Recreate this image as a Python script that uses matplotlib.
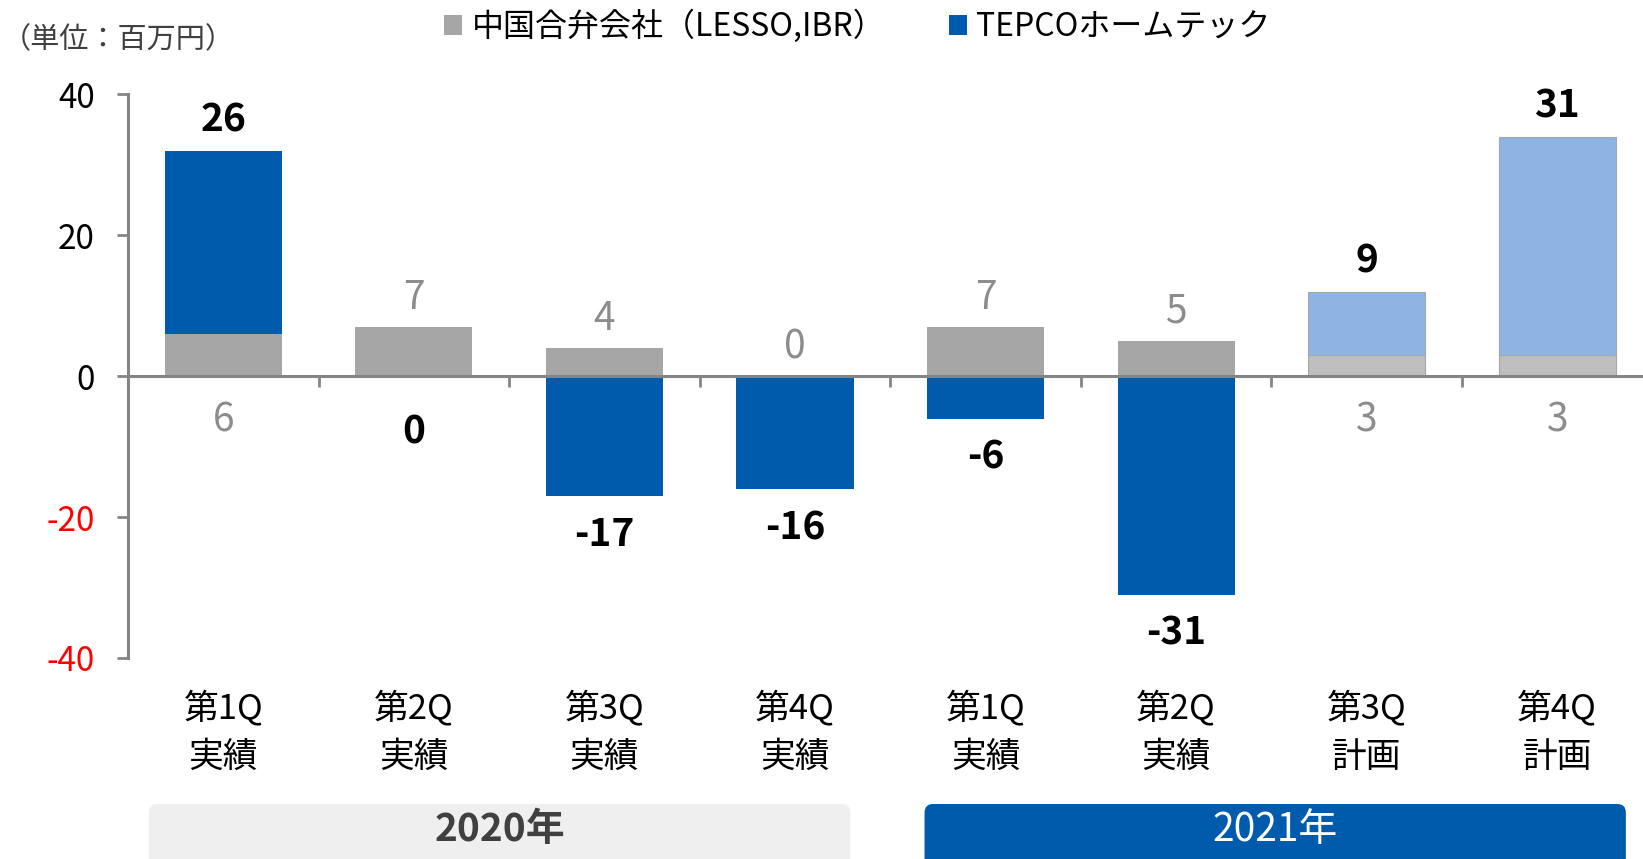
import matplotlib
matplotlib.use("Agg")
import matplotlib.pyplot as plt
from matplotlib.patches import Patch, FancyBboxPatch
import matplotlib.transforms as mtransforms
import numpy as np

plt.rcParams['font.family'] = ['Noto Sans CJK JP', 'DejaVu Sans']

# data (百万円)
quarters = ["第1Q\n実績", "第2Q\n実績", "第3Q\n実績", "第4Q\n実績",
            "第1Q\n実績", "第2Q\n実績", "第3Q\n計画", "第4Q\n計画"]
jv_china = [6, 7, 4, 0, 7, 5, 3, 3]
tepco_ht = [26, 0, -17, -16, -6, -31, 9, 31]
is_plan = [False, False, False, False, False, False, True, True]
years = ["2020年", "2021年"]
year_span = [(0, 3), (4, 7)]

legend_labels = ["中国合弁会社（LESSO,IBR）", "TEPCOホームテック"]
unit_label = "（単位：百万円）"

GRAY = "#A6A6A6"
BLUE = "#005BAC"
LGRAY = "#BFBFBF"
LBLUE = "#8EB4E3"
AXC = "#858585"

fig = plt.figure(figsize=(16.43, 8.59), dpi=100)
ax = fig.add_axes([0.0779, 0.234, 0.9221, 0.656])

x = np.arange(len(quarters))
w = 0.615
gcol = [LGRAY if p else GRAY for p in is_plan]
bcol = [LBLUE if p else BLUE for p in is_plan]
ecol = ["#A6A6A6" if p else "none" for p in is_plan]
bottoms = [g if b > 0 else 0 for g, b in zip(jv_china, tepco_ht)]

ax.bar(x, jv_china, w, color=gcol, edgecolor=ecol, linewidth=0.8, zorder=2)
ax.bar(x, tepco_ht, w, bottom=bottoms, color=bcol, edgecolor=ecol, linewidth=0.8, zorder=2)

# value labels
for i in x:
    g, b = jv_china[i], tepco_ht[i]
    if b > 0:
        ax.annotate(str(b), (i, g + b), xytext=(0, 22), textcoords="offset points",
                    ha="center", va="center", fontsize=28, fontweight="bold", color="black")
        ax.annotate(str(g), (i, 0), xytext=(0, -32), textcoords="offset points",
                    ha="center", va="center", fontsize=28, color="#8C8C8C")
    else:
        ax.annotate(str(g), (i, g), xytext=(0, 21), textcoords="offset points",
                    ha="center", va="center", fontsize=28, color="#8C8C8C")
        off = -40 if b == 0 else -28
        ax.annotate(str(b), (i, b), xytext=(0, off), textcoords="offset points",
                    ha="center", va="center", fontsize=28, fontweight="bold", color="black")

ax.set_xlim(-0.5, 7.45)
ax.set_ylim(-40, 40)
ax.set_yticks([-40, -20, 0, 20, 40])
ax.yaxis.set_major_formatter(matplotlib.ticker.FuncFormatter(lambda v, p: f"{int(v)}"))
ax.tick_params(axis="y", direction="out", length=8, width=2, color=AXC, pad=16, labelsize=24)
for t, v in zip(ax.get_yticklabels(), ax.get_yticks()):
    t.set_color("red" if v < 0 else "black")

for s in ["top", "right"]:
    ax.spines[s].set_visible(False)
ax.spines["left"].set_color(AXC)
ax.spines["left"].set_linewidth(2.2)
ax.spines["bottom"].set_position(("data", 0))
ax.spines["bottom"].set_color(AXC)
ax.spines["bottom"].set_linewidth(2.2)
ax.spines["bottom"].set_zorder(3)
ax.set_xticks(x[:-1] + 0.5)
ax.set_xticklabels([])
ax.tick_params(axis="x", direction="out", length=8, width=2, color=AXC)

# category labels
trans = mtransforms.blended_transform_factory(ax.transData, fig.transFigure)
for i, q in enumerate(quarters):
    ax.text(i, 1 - 733 / 859, q, transform=trans, ha="center", va="center",
            fontsize=25, linespacing=1.5)

# year boxes
yb = 1 - 804 / 859
for k, (yr, (a, b)) in enumerate(zip(years, year_span)):
    x0 = a - 0.39 + 0.07 * k
    x1 = b + 0.29 + 0.07 * k
    fc = "#EFEFEF" if k == 0 else BLUE
    box = FancyBboxPatch((x0, -0.1), x1 - x0, yb + 0.1, transform=trans,
                         boxstyle="round,pad=0,rounding_size=0.045",
                         mutation_aspect=0.22, facecolor=fc, edgecolor="none",
                         clip_on=False)
    ax.add_patch(box)
    ax.text((x0 + x1) / 2, 1 - 830 / 859, yr, transform=trans, ha="center", va="center",
            fontsize=28, fontweight="bold" if k == 0 else "normal",
            color="#404040" if k == 0 else "white")

# legend and unit
handles = [Patch(facecolor=GRAY), Patch(facecolor=BLUE)]
fig.legend(handles, legend_labels, loc="upper center", bbox_to_anchor=(0.522, 1.022),
           ncol=2, frameon=False, fontsize=23, handlelength=0.55, handleheight=0.55,
           handletextpad=0.3, columnspacing=2.0)
fig.text(0.001, 1 - 40 / 859, unit_label, ha="left", va="center", fontsize=21, color="#404040")

fig.savefig("out.png", dpi=100)
